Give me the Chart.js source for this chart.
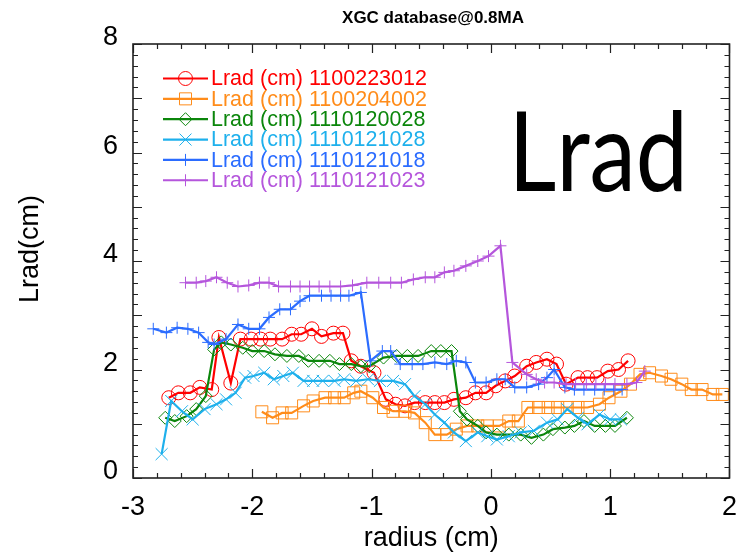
<!DOCTYPE html>
<html><head><meta charset="utf-8">
<script src="https://cdn.jsdelivr.net/npm/chart.js@4/dist/chart.umd.min.js"></script>
<style>html,body{margin:0;padding:0;background:#fff}canvas{display:block}</style>
</head><body>
<canvas id="c" width="750" height="554"></canvas>
<script>
// ---------- data ----------
const chartTitle = 'XGC database@0.8MA';
const xAxisTitle = 'radius (cm)';
const yAxisTitle = 'Lrad(cm)';
const overlayText = 'Lrad';
const seriesNames = ['Lrad (cm) 1100223012','Lrad (cm) 1100204002','Lrad (cm) 1110120028','Lrad (cm) 1110121028','Lrad (cm) 1110121018','Lrad (cm) 1110121023'];
const xTickLabels = [-3,-2,-1,0,1,2];
const yTickLabels = [0,2,4,6,8];

const redX = [-2.70,-2.62,-2.52,-2.44,-2.34,-2.28,-2.18,-2.10,-2.01,-1.93,-1.85,-1.75,-1.67,-1.59,-1.50,-1.42,-1.32,-1.24,-1.17,-1.09,-0.98,-0.88,-0.80,-0.72,-0.64,-0.55,-0.47,-0.39,-0.31,-0.21,-0.13,-0.04,0.04,0.12,0.20,0.30,0.38,0.47,0.55,0.63,0.73,0.81,0.89,0.98,1.07,1.15];
const redY = [1.48,1.57,1.57,1.67,1.63,2.59,1.75,2.56,2.56,2.56,2.56,2.56,2.65,2.65,2.75,2.61,2.67,2.67,2.16,2.06,1.94,1.45,1.36,1.33,1.39,1.39,1.39,1.39,1.45,1.48,1.57,1.57,1.70,1.79,1.88,2.06,2.13,2.19,2.10,1.73,1.85,1.85,1.85,1.97,2.00,2.16];

const orangeX = [-1.92,-1.83,-1.75,-1.67,-1.57,-1.49,-1.39,-1.31,-1.23,-1.15,-1.09,-0.99,-0.90,-0.82,-0.72,-0.64,-0.55,-0.47,-0.37,-0.29,-0.20,-0.11,-0.03,0.07,0.15,0.23,0.31,0.40,0.48,0.56,0.64,0.73,0.81,0.91,0.99,1.09,1.17,1.25,1.33,1.43,1.51,1.60,1.68,1.77,1.86,1.94];
const orangeY = [1.22,1.11,1.20,1.20,1.33,1.42,1.48,1.48,1.48,1.57,1.60,1.48,1.30,1.23,1.23,1.20,1.02,0.80,0.80,0.90,0.96,0.96,0.96,0.96,1.05,1.05,1.30,1.30,1.30,1.30,1.30,1.30,1.30,1.36,1.48,1.60,1.73,1.91,1.94,1.88,1.82,1.73,1.63,1.63,1.54,1.54];

const greenX = [-2.73,-2.65,-2.55,-2.47,-2.39,-2.32,-2.26,-2.18,-2.08,-2.00,-1.90,-1.81,-1.71,-1.61,-1.53,-1.44,-1.35,-1.27,-1.17,-1.09,-1.02,-0.90,-0.79,-0.70,-0.61,-0.50,-0.42,-0.33,-0.26,-0.20,-0.11,-0.04,0.05,0.15,0.25,0.34,0.44,0.52,0.62,0.70,0.78,0.87,0.96,1.04,1.14];
const greenY = [1.11,1.05,1.14,1.27,1.51,2.37,2.50,2.46,2.40,2.34,2.34,2.28,2.25,2.25,2.16,2.16,2.16,2.10,2.10,2.06,2.06,2.22,2.25,2.25,2.25,2.34,2.34,2.34,1.23,1.08,0.96,0.84,0.80,0.80,0.80,0.74,0.80,0.90,0.93,0.96,1.05,0.96,0.96,0.96,1.11];

const cyanX = [-2.76,-2.68,-2.59,-2.50,-2.40,-2.30,-2.22,-2.14,-2.06,-1.99,-1.90,-1.82,-1.74,-1.66,-1.57,-1.49,-1.41,-1.31,-1.23,-1.13,-1.03,-0.93,-0.82,-0.72,-0.64,-0.55,-0.47,-0.39,-0.31,-0.21,-0.11,-0.03,0.05,0.15,0.25,0.36,0.47,0.56,0.64,0.73,0.81,0.91,1.00,1.09];
const cyanY = [0.44,1.42,1.23,1.08,1.27,1.36,1.45,1.57,1.85,1.88,1.94,1.82,1.88,1.94,1.79,1.79,1.79,1.79,1.82,1.79,1.82,1.79,1.79,1.73,1.51,1.36,1.17,1.02,0.84,0.68,0.84,0.77,0.71,0.77,0.84,0.87,1.02,1.08,1.27,1.11,0.99,1.17,1.08,1.08];

const blueX = [-2.83,-2.72,-2.63,-2.54,-2.45,-2.37,-2.32,-2.22,-2.12,-2.03,-1.94,-1.86,-1.77,-1.68,-1.60,-1.52,-1.42,-1.34,-1.26,-1.19,-1.09,-1.01,-0.91,-0.84,-0.76,-0.66,-0.57,-0.47,-0.37,-0.29,-0.21,-0.13,-0.04,0.05,0.12,0.20,0.30,0.40,0.47,0.53,0.62,0.70,0.78,0.87,0.95,1.03,1.10];
const blueY = [2.75,2.68,2.77,2.75,2.68,2.50,2.46,2.56,2.83,2.75,2.75,2.96,3.11,3.11,3.26,3.36,3.36,3.36,3.36,3.36,3.42,2.16,2.34,2.34,2.10,2.10,2.10,2.13,2.10,2.16,2.13,1.76,1.76,1.82,1.82,1.67,1.67,1.73,1.85,2.00,1.67,1.63,1.63,1.63,1.63,1.63,1.63];

const purpleX = [-2.56,-2.47,-2.39,-2.30,-2.21,-2.12,-2.03,-1.94,-1.86,-1.78,-1.68,-1.60,-1.52,-1.44,-1.35,-1.26,-1.16,-1.04,-0.94,-0.84,-0.75,-0.65,-0.55,-0.47,-0.39,-0.31,-0.21,-0.11,-0.02,0.08,0.18,0.30,0.38,0.45,0.53,0.63,0.71,0.80,0.88,0.96,1.04,1.14,1.22,1.29];
const purpleY = [3.60,3.60,3.63,3.70,3.60,3.53,3.55,3.60,3.60,3.53,3.53,3.53,3.53,3.53,3.53,3.53,3.55,3.60,3.60,3.60,3.60,3.66,3.70,3.70,3.79,3.82,3.91,4.00,4.09,4.28,2.13,1.91,1.82,1.76,1.76,1.73,1.73,1.73,1.73,1.73,1.73,1.73,1.76,1.97];

const seriesColors = ['#ff0000','#ff8c1a','#0b860b','#1eb0ec','#2b6cff','#b556dc'];
const seriesMarkers = ['circle','rect','rectRot','crossRot','cross','cross'];
const markerSizes = [7,8.5,6.5,8.5,6,6];
const seriesX = [redX, orangeX, greenX, cyanX, blueX, purpleX];
const seriesY = [redY, orangeY, greenY, cyanY, blueY, purpleY];

// ---------- chart ----------
const FONT = '"Liberation Sans", Arial, Helvetica, sans-serif';

const datasets = seriesNames.map((name, i) => ({
  label: name,
  data: seriesX[i].map((x, k) => ({x: x, y: seriesY[i][k]})),
  borderColor: seriesColors[i],
  backgroundColor: 'rgba(0,0,0,0)',
  borderWidth: 2.2,
  tension: 0,
  pointStyle: seriesMarkers[i],
  pointRadius: markerSizes[i],
  pointBorderWidth: 1,
  pointBorderColor: seriesColors[i],
  pointBackgroundColor: 'rgba(0,0,0,0)',
  order: seriesNames.length - 1 - i,
  clip: 0
}));

function drawMarker(ctx, style, x, y, r) {
  ctx.beginPath();
  if (style === 'circle') { ctx.arc(x, y, r, 0, Math.PI*2); }
  else if (style === 'rect') { const s = r/Math.SQRT2; ctx.rect(x-s, y-s, 2*s, 2*s); }
  else if (style === 'rectRot') { ctx.moveTo(x, y-r); ctx.lineTo(x+r, y); ctx.lineTo(x, y+r); ctx.lineTo(x-r, y); ctx.closePath(); }
  else if (style === 'crossRot') { const d = r*Math.SQRT1_2; ctx.moveTo(x-d,y-d); ctx.lineTo(x+d,y+d); ctx.moveTo(x-d,y+d); ctx.lineTo(x+d,y-d); }
  else { ctx.moveTo(x-r,y); ctx.lineTo(x+r,y); ctx.moveTo(x,y-r); ctx.lineTo(x,y+r); }
  ctx.stroke();
}

const decor = {
  id: 'decor',
  afterDraw(chart) {
    const ctx = chart.ctx, ca = chart.chartArea, sx = chart.scales.x, sy = chart.scales.y;
    ctx.save();
    // ticks (inward, all four sides)
    ctx.strokeStyle = '#222'; ctx.lineWidth = 1.2;
    ctx.beginPath();
    for (let k = 0; k <= 25; k++) {
      const v = -3 + k*0.2;
      const p = Math.round(sx.getPixelForValue(v)) + 0.5;
      const L = (k % 5 === 0) ? 9 : 5;
      ctx.moveTo(p, ca.bottom); ctx.lineTo(p, ca.bottom - L);
      ctx.moveTo(p, ca.top); ctx.lineTo(p, ca.top + L);
    }
    for (let k = 0; k <= 40; k++) {
      const v = k*0.2;
      const p = Math.round(sy.getPixelForValue(v)) + 0.5;
      const L = (k % 5 === 0) ? 9 : 5;
      ctx.moveTo(ca.left, p); ctx.lineTo(ca.left + L, p);
      ctx.moveTo(ca.right, p); ctx.lineTo(ca.right - L, p);
    }
    ctx.stroke();
    ctx.lineWidth = 1.6;
    ctx.strokeRect(ca.left, ca.top, ca.right - ca.left, ca.bottom - ca.top);

    // titles
    ctx.fillStyle = '#000';
    ctx.textAlign = 'center'; ctx.textBaseline = 'middle';
    ctx.font = 'bold 17px ' + FONT;
    ctx.fillText(chartTitle, 433, 18);
    ctx.font = '27px ' + FONT;
    ctx.fillText(xAxisTitle, (ca.left + ca.right)/2, 539);
    ctx.save();
    ctx.translate(30.5, 249); ctx.rotate(-Math.PI/2);
    ctx.fillText(yAxisTitle, 0, 0);
    ctx.restore();

    // overlay label, fitted to its box in the picture
    ctx.textAlign = 'left'; ctx.textBaseline = 'alphabetic';
    ctx.font = '100px Lato, "Open Sans", sans-serif';
    const m = ctx.measureText(overlayText);
    const asc = m.actualBoundingBoxAscent || 75;
    const fs = 100 * 82 / asc;
    ctx.font = fs.toFixed(1) + 'px Lato, "Open Sans", sans-serif';
    const m2 = ctx.measureText(overlayText);
    const wid2 = (m2.actualBoundingBoxRight + m2.actualBoundingBoxLeft) || m2.width;
    const kx = 165 / wid2;
    ctx.save();
    ctx.translate(517, 191);
    ctx.scale(kx, 1);
    ctx.fillText(overlayText, m2.actualBoundingBoxLeft || 0, 0);
    ctx.restore();

    // legend
    ctx.font = '21.5px ' + FONT;
    ctx.textBaseline = 'middle';
    for (let i = 0; i < seriesNames.length; i++) {
      const y = 78.5 + i*20.35;
      ctx.strokeStyle = seriesColors[i]; ctx.lineWidth = 2.2;
      ctx.beginPath(); ctx.moveTo(163, y); ctx.lineTo(208, y); ctx.stroke();
      ctx.lineWidth = 1;
      drawMarker(ctx, seriesMarkers[i], 185.5, y, markerSizes[i]);
      ctx.fillStyle = seriesColors[i];
      ctx.fillText(seriesNames[i], 211, y + 1);
    }
    ctx.restore();
  }
};

new Chart(document.getElementById('c'), {
  type: 'line',
  data: { datasets },
  options: {
    responsive: false, animation: false, devicePixelRatio: 1,
    layout: { padding: { top: 44, right: 11, left: 0, bottom: 0 } },
    plugins: { legend: { display: false }, tooltip: { enabled: false }, title: { display: false } },
    scales: {
      x: {
        type: 'linear', min: -3, max: 2,
        afterFit(s) { s.height = 76; },
        grid: { display: false, drawTicks: false }, border: { display: false },
        afterBuildTicks(s) { s.ticks = xTickLabels.map(v => ({value: v})); },
        ticks: { padding: 13, color: '#000', font: { family: FONT, size: 27 }, maxRotation: 0, callback: v => String(v) }
      },
      y: {
        type: 'linear', min: 0, max: 8,
        afterFit(s) { s.width = 133; },
        grid: { display: false, drawTicks: false }, border: { display: false },
        afterBuildTicks(s) { s.ticks = yTickLabels.map(v => ({value: v})); },
        ticks: { padding: 15, labelOffset: -6, color: '#000', font: { family: FONT, size: 27 }, callback: v => String(v) }
      }
    }
  },
  plugins: [decor]
});
</script>
</body></html>
